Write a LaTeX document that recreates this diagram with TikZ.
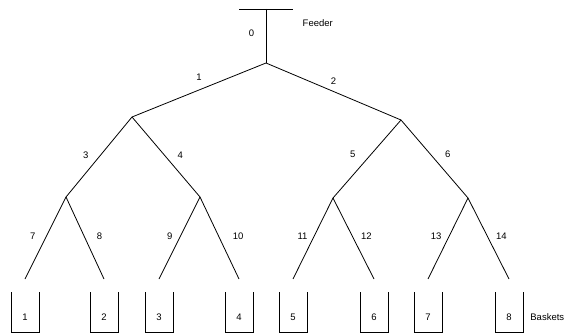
\documentclass[tikz,border=0pt]{standalone}
\usepackage{fontspec}
\setmainfont{Liberation Sans}
\usetikzlibrary{positioning}

\begin{document}
\begin{tikzpicture}[
    x=1pt, y=-1pt,
    line width=0.8pt,
    every node/.style={font=\fontsize{9.5}{11}\selectfont},
    basket/.style={%
      rectangle,
      inner xsep=0pt,
      inner ysep=0pt,
      minimum width=27pt,
      text height=28.5pt,
      text depth=11.5pt,
    },
  ]
    \useasboundingbox (0,0) rectangle (565,334);

    \coordinate (FL) at (239,9);
    \coordinate (FR) at (293,9);
    \coordinate (F) at (266,9);
    \coordinate (R) at (266,63);
    \coordinate (A) at (132,117);
    \coordinate (B) at (401,120);
    \coordinate (C) at (66,197);
    \coordinate (D) at (200,197);
    \coordinate (E) at (333,198);
    \coordinate (G) at (468,198);
    \coordinate (l1) at (25,279);
    \coordinate (l2) at (104,279);
    \coordinate (l3) at (159,279);
    \coordinate (l4) at (239,279);
    \coordinate (l5) at (293,279);
    \coordinate (l6) at (374,279);
    \coordinate (l7) at (428,279);
    \coordinate (l8) at (509,279);

    \draw (FL) -- (FR);
    \node [right] (feeder) at (299,23) {Feeder};

    \draw (F) -- (R) node [left=8pt,pos=0.45] {0};
    \draw (R) -- (A) node [above=6pt,pos=0.5] {1};
    \draw (R) -- (B) node [above=3pt,pos=0.5] {2};
    \draw (A) -- (C) node [left=8.5pt,pos=0.475] {3};
    \draw (A) -- (D) node [right=9.5pt,pos=0.475] {4};
    \draw (B) -- (E) node [left=12pt,pos=0.44] {5};
    \draw (B) -- (G) node [right=11pt,pos=0.44] {6};
    \draw (C) -- (l1) node [left=7.5pt,pos=0.475] {7};
    \draw (C) -- (l2) node [right=9pt,pos=0.475] {8};
    \draw (D) -- (l3) node [left=4.5pt,pos=0.475] {9};
    \draw (D) -- (l4) node [right=10.5pt,pos=0.475] {10};
    \draw (E) -- (l5) node [left=3pt,pos=0.47] {11};
    \draw (E) -- (l6) node [right=5pt,pos=0.47] {12};
    \draw (G) -- (l7) node [left=4pt,pos=0.47] {13};
    \draw (G) -- (l8) node [right=5pt,pos=0.47] {14};

    \foreach \i in {1,...,8} {
      \node [basket, below=13pt of l\i] (b\i) {\i};
      \draw (b\i.north west) -- (b\i.south west) -- (b\i.south east) -- (b\i.north east);
    }
    \node [right, inner xsep=1pt] (baskets) at (529,317) {Baskets};
\end{tikzpicture}
\end{document}
